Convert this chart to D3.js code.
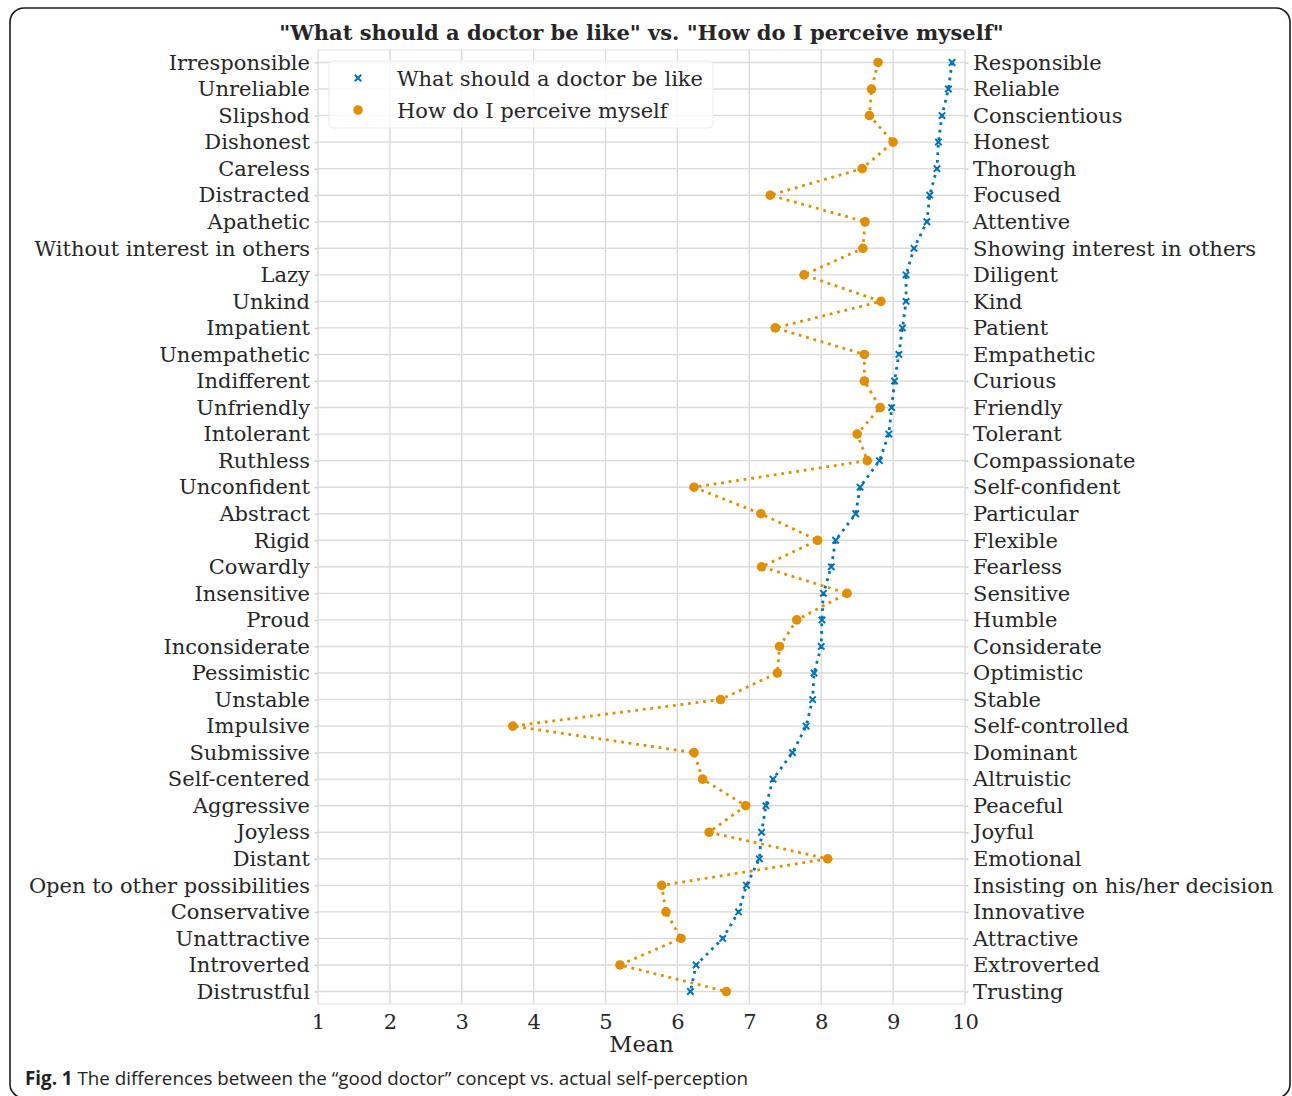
<!DOCTYPE html>
<html>
<head>
<meta charset="utf-8">
<script src="https://cdn.jsdelivr.net/npm/d3@7"></script>
<style>
  html, body { margin: 0; padding: 0; background: #ffffff; }
  svg { display: block; }
</style>
</head>
<body>
<svg id="chart" width="1292" height="1096"></svg>
<script>
// ---------------- DATA ----------------
const leftLabels = ["Irresponsible","Unreliable","Slipshod","Dishonest","Careless","Distracted","Apathetic","Without interest in others","Lazy","Unkind","Impatient","Unempathetic","Indifferent","Unfriendly","Intolerant","Ruthless","Unconfident","Abstract","Rigid","Cowardly","Insensitive","Proud","Inconsiderate","Pessimistic","Unstable","Impulsive","Submissive","Self-centered","Aggressive","Joyless","Distant","Open to other possibilities","Conservative","Unattractive","Introverted","Distrustful"];
const rightLabels = ["Responsible","Reliable","Conscientious","Honest","Thorough","Focused","Attentive","Showing interest in others","Diligent","Kind","Patient","Empathetic","Curious","Friendly","Tolerant","Compassionate","Self-confident","Particular","Flexible","Fearless","Sensitive","Humble","Considerate","Optimistic","Stable","Self-controlled","Dominant","Altruistic","Peaceful","Joyful","Emotional","Insisting on his/her decision","Innovative","Attractive","Extroverted","Trusting"];
const idealValues = [9.82,9.77,9.68,9.63,9.61,9.51,9.47,9.29,9.18,9.18,9.13,9.08,9.02,8.98,8.94,8.81,8.54,8.48,8.20,8.14,8.03,8.01,8.00,7.90,7.88,7.79,7.60,7.33,7.23,7.17,7.14,6.96,6.85,6.63,6.26,6.18];
const selfValues  = [8.79,8.70,8.67,9.00,8.57,7.29,8.61,8.58,7.76,8.83,7.36,8.60,8.60,8.82,8.50,8.64,6.23,7.16,7.95,7.17,8.36,7.66,7.42,7.39,6.60,3.71,6.23,6.35,6.95,6.44,8.09,5.78,5.84,6.05,5.20,6.68];
const xTicks = [1,2,3,4,5,6,7,8,9,10];
const seriesNames = ["What should a doctor be like","How do I perceive myself"];
const titleText = "\"What should a doctor be like\" vs. \"How do I perceive myself\"";
const xLabel = "Mean";
const captionBold = "Fig. 1";
const captionText = " The differences between the \u201cgood doctor\u201d concept vs. actual self-perception";

// ---------------- LAYOUT ----------------
const W = 1292, H = 1096;
const plot = {left: 318, right: 965, top: 50, bottom: 1004};
const blue = "#0173b2", orange = "#de8f05";
const textColor = "#262626", gridColor = "#dadada";
const serif = "'DejaVu Serif', serif";
const fs = 21;

const svg = d3.select("#chart");

// frame border (rounded corners)
svg.append("rect")
  .attr("x", 10).attr("y", 8)
  .attr("width", 1280).attr("height", 1090)
  .attr("rx", 14).attr("ry", 14)
  .attr("fill", "none").attr("stroke", "#1a1a1a").attr("stroke-width", 1.6);

const x = d3.scaleLinear().domain([1, 10]).range([plot.left, plot.right]);
const idx = leftLabels.map((d, i) => i);
const y = d3.scalePoint().domain(idx).range([plot.top, plot.bottom]).padding(0.47);

// grid
const g = svg.append("g");
g.append("g").selectAll("line").data(xTicks).join("line")
  .attr("x1", d => x(d)).attr("x2", d => x(d))
  .attr("y1", plot.top).attr("y2", plot.bottom)
  .attr("stroke", gridColor).attr("stroke-width", 1.4);
g.append("g").selectAll("line").data(idx).join("line")
  .attr("x1", plot.left).attr("x2", plot.right)
  .attr("y1", d => y(d)).attr("y2", d => y(d))
  .attr("stroke", gridColor).attr("stroke-width", 1.4);
// spines
g.append("rect")
  .attr("x", plot.left).attr("y", plot.top)
  .attr("width", plot.right - plot.left).attr("height", plot.bottom - plot.top)
  .attr("fill", "none").attr("stroke", "#e6e6e6").attr("stroke-width", 1.2);

// axes
function styleAxis(sel) {
  sel.select(".domain").remove();
  sel.selectAll(".tick line").attr("stroke", "#cfcfcf").attr("stroke-width", 1.4);
  sel.selectAll(".tick text").attr("fill", textColor)
    .style("font-family", serif).style("font-size", fs + "px");
}
svg.append("g").attr("transform", `translate(${plot.left},0)`)
  .call(d3.axisLeft(y).tickSize(3.5).tickPadding(4.5).tickFormat(i => leftLabels[i]))
  .call(styleAxis);
svg.append("g").attr("transform", `translate(${plot.right},0)`)
  .call(d3.axisRight(y).tickSize(3.5).tickPadding(4.5).tickFormat(i => rightLabels[i]))
  .call(styleAxis);
svg.append("g").attr("transform", `translate(0,${plot.bottom})`)
  .call(d3.axisBottom(x).tickValues(xTicks).tickSize(0).tickPadding(10).tickFormat(d3.format("d")))
  .call(styleAxis);

// x label
svg.append("text").attr("x", (plot.left + plot.right) / 2).attr("y", 1052)
  .attr("text-anchor", "middle").attr("fill", textColor)
  .style("font-family", serif).style("font-size", "22.5px").text(xLabel);

// title
svg.append("text").attr("x", (plot.left + plot.right) / 2).attr("y", 40)
  .attr("text-anchor", "middle").attr("fill", textColor)
  .style("font-family", serif).style("font-size", fs + "px").style("font-weight", "bold")
  .text(titleText);

// series
const line = d3.line().x(d => x(d.v)).y(d => y(d.i));
const idealData = idealValues.map((v, i) => ({v, i}));
const selfData = selfValues.map((v, i) => ({v, i}));

function drawX(sel, cx, cy, r, color) {
  sel.append("path")
    .attr("d", `M${cx - r},${cy - r}L${cx + r},${cy + r}M${cx - r},${cy + r}L${cx + r},${cy - r}`)
    .attr("stroke", color).attr("stroke-width", 2).attr("fill", "none");
}

svg.append("path").datum(idealData).attr("d", line)
  .attr("fill", "none").attr("stroke", blue).attr("stroke-width", 2.8)
  .attr("stroke-dasharray", "2.8,4.8");
const bm = svg.append("g");
idealData.forEach(d => drawX(bm, x(d.v), y(d.i), 3.2, blue));

svg.append("path").datum(selfData).attr("d", line)
  .attr("fill", "none").attr("stroke", orange).attr("stroke-width", 2.8)
  .attr("stroke-dasharray", "2.8,4.8");
svg.append("g").selectAll("circle").data(selfData).join("circle")
  .attr("cx", d => x(d.v)).attr("cy", d => y(d.i)).attr("r", 4.8)
  .attr("fill", orange);

// legend
const lg = svg.append("g");
lg.append("rect").attr("x", 329).attr("y", 61).attr("width", 384).attr("height", 67)
  .attr("rx", 4).attr("fill", "#ffffff").attr("fill-opacity", 0.8)
  .attr("stroke", "#ebebeb").attr("stroke-width", 1);
drawX(lg, 358, 78, 3.2, blue);
lg.append("circle").attr("cx", 358).attr("cy", 110).attr("r", 4.8).attr("fill", orange);
lg.selectAll("text").data(seriesNames).join("text")
  .attr("x", 397).attr("y", (d, i) => 78 + i * 32).attr("dy", "0.36em")
  .attr("fill", textColor).style("font-family", serif).style("font-size", fs + "px")
  .text(d => d);

// caption
const cap = svg.append("text").attr("x", 25).attr("y", 1085)
  .attr("fill", "#222").style("font-family", "'Open Sans', sans-serif").style("font-size", "19px")
  .attr("textLength", 723).attr("lengthAdjust", "spacingAndGlyphs");
cap.append("tspan").style("font-weight", "bold").text(captionBold);
cap.append("tspan").text(captionText);
</script>
</body>
</html>
